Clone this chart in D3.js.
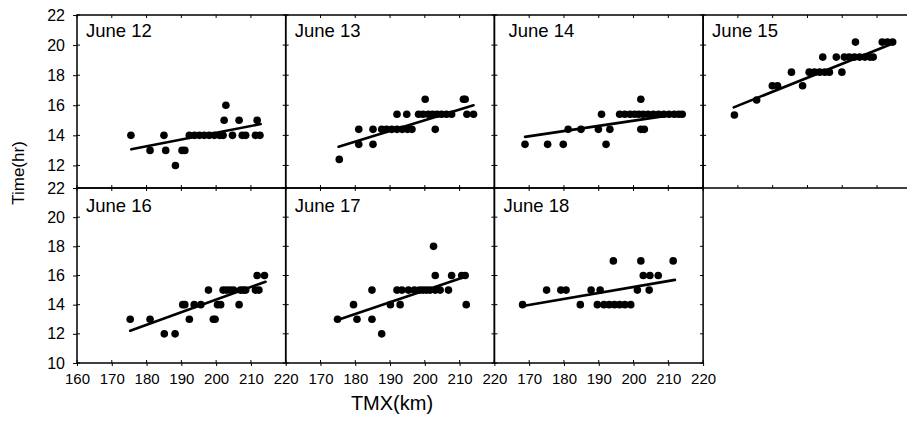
<!DOCTYPE html>
<html>
<head>
<meta charset="utf-8">
<script src="https://cdn.jsdelivr.net/npm/d3@7"></script>
<style>
body { margin: 0; background: #fff; }
text { font-family: "Liberation Sans", Arial, sans-serif; fill: #000; }
</style>
</head>
<body>
<script>
// panel labels, in drawing order (top row 4 panels, bottom row 3)
var labels = ["June 12", "June 13", "June 14", "June 15", "June 16", "June 17", "June 18"];

// [TMX (km), Time (hr)]
var june12 = [[175.5,14],[181,13],[185,14],[185.5,13],[188.3,12],[190.2,13],[191,13],
  [192.3,14],[193.8,14],[195.2,14],[196.6,14],[198,14],[199.5,14],[201,14],[202,14],
  [202.8,16],[202.3,15],[204.7,14],[206.6,15],[207.5,14],[208.5,14],[211.8,15],[211.3,14],[212.6,14]];
var june13 = [[175.4,12.4],[181,13.4],[181,14.4],[185.1,13.4],[185.1,14.4],
  [187.6,14.4],[189,14.4],[190.5,14.4],[192,14.4],[193.5,14.4],[195,14.4],[196.3,14.4],
  [192,15.4],[194.8,15.4],[198.2,15.4],[199.5,15.4],[201,15.4],[202.2,15.4],[203.5,15.4],
  [204.8,15.4],[206.2,15.4],[207.7,15.4],[200.1,16.4],[203,14.4],[211.1,16.4],[211.6,16.4],
  [212.1,15.4],[214,15.4]];
var june14 = [[168.8,13.4],[175.3,13.4],[179.8,13.4],[181.2,14.4],[184.9,14.4],[189.9,14.4],
  [190.8,15.4],[192.1,13.4],[193.2,14.4],[196,15.4],[197.5,15.4],[199,15.4],[200.3,15.4],
  [201.5,15.4],[202.8,15.4],[204.2,15.4],[205.7,15.4],[207.2,15.4],[208.7,15.4],[210.2,15.4],
  [211.7,15.4],[213,15.4],[214,15.4],[202.1,16.4],[202.1,14.4],[203.1,14.4]];
var june15 = [[169,15.35],[175.4,16.35],[179.9,17.3],[181.4,17.3],[185.4,18.2],[188.6,17.3],
  [190.5,18.2],[192,18.2],[193.5,18.2],[195,18.2],[196.3,18.2],[194.4,19.2],[198.3,19.2],
  [199.9,18.2],[200.6,19.2],[202,19.2],[203.5,19.2],[205,19.2],[206.5,19.2],[208,19.2],
  [208.9,19.2],[203.8,20.2],[211.5,20.2],[213,20.2],[214.5,20.2]];
var june16 = [[175.3,13],[181,13],[185.1,12],[188.2,12],[190.4,14],[191,14],[192.3,13],
  [193.7,14],[195.6,14],[197.8,15],[199.2,13],[199.7,13],[200.4,14],[201.3,14],[202,15],
  [203,15],[204,15],[205,15],[206.6,14],[207,15],[207.8,15],[208.5,15],[211.3,15],[212.3,15],
  [211.8,16],[213.9,16]];
var june17 = [[174.9,13],[179.5,14],[180.5,13],[184.8,15],[184.8,13],[187.6,12],[190.1,14],
  [192,15],[193.4,15],[192.9,14],[195.3,15],[197,15],[198.5,15],[199.5,15],[200.5,15],
  [201.5,15],[203,15],[202.5,18],[203,16],[204.4,15],[206.8,15],[207.7,16],[210.6,16],
  [211.6,16],[211.9,14]];
var june18 = [[168.1,14],[175,15],[179.1,15],[180.6,15],[184.7,14],[187.8,15],[190.4,15],
  [189.6,14],[191.5,14],[193,14],[194.5,14],[196,14],[197.5,14],[199.2,14],[194.2,17],
  [201.1,15],[202.1,17],[202.8,16],[204.7,16],[207.1,16],[204.5,15],[211.4,17]];

// fitted lines per panel: [x start, y start, x end, y end]
var fits = [[175.6,13.07,212.8,14.75],[175.2,13.24,214,16.0],[168.8,13.9,214.1,15.46],
  [168.8,15.86,214.7,20.12],[175.3,12.21,214.2,15.57],[174.9,12.95,211.6,15.92],
  [168.6,13.93,211.9,15.7]];

var xTicks = [160, 170, 180, 190, 200, 210, 220];
var yTicksTop = [12, 14, 16, 18, 20, 22];
var yTicksBottom = [10, 12, 14, 16, 18, 20, 22];

var series = [june12, june13, june14, june15, june16, june17, june18];

var width = 907, height = 422;
var left = 77, panelW = 208.7;
var rows = [
  {top: 15, bottom: 188, domain: [10.5, 22], ticks: yTicksTop},
  {top: 188, bottom: 363, domain: [10, 22], ticks: yTicksBottom}
];

var svg = d3.select("body").append("svg")
  .attr("width", width).attr("height", height);

series.forEach(function (pts, i) {
  var r = i < 4 ? 0 : 1,
      col = i < 4 ? i : i - 4,
      row = rows[r],
      h = row.bottom - row.top;

  var x = d3.scaleLinear().domain([160, 220]).range([0, panelW]);
  var y = d3.scaleLinear().domain(row.domain).range([h, 0]);

  var g = svg.append("g")
    .attr("transform", "translate(" + (left + col * panelW) + "," + row.top + ")");

  // small inside ticks on all four sides
  xTicks.forEach(function (t) {
    g.append("line").attr("x1", x(t)).attr("x2", x(t)).attr("y1", 0).attr("y2", 3)
      .attr("stroke", "#000").attr("stroke-width", 1);
    g.append("line").attr("x1", x(t)).attr("x2", x(t)).attr("y1", h - 3).attr("y2", h)
      .attr("stroke", "#000").attr("stroke-width", 1);
  });
  row.ticks.forEach(function (t) {
    g.append("line").attr("x1", 0).attr("x2", 3).attr("y1", y(t)).attr("y2", y(t))
      .attr("stroke", "#000").attr("stroke-width", 1);
    g.append("line").attr("x1", panelW - 3).attr("x2", panelW).attr("y1", y(t)).attr("y2", y(t))
      .attr("stroke", "#000").attr("stroke-width", 1);
  });

  g.append("rect")
    .attr("width", panelW).attr("height", h)
    .attr("fill", "none").attr("stroke", "#000").attr("stroke-width", 1.5);

  g.selectAll(".dot")
    .data(pts)
    .enter().append("circle")
    .attr("class", "dot")
    .attr("cx", function (d) { return x(d[0]); })
    .attr("cy", function (d) { return y(d[1]); })
    .attr("r", 3.8)
    .attr("fill", "#000");

  var f = fits[i];
  g.append("line")
    .attr("x1", x(f[0])).attr("y1", y(f[1]))
    .attr("x2", x(f[2])).attr("y2", y(f[3]))
    .attr("stroke", "#000").attr("stroke-width", 2.6).attr("stroke-linecap", "round");

  g.append("text")
    .attr("x", i === 2 ? 14 : 9).attr("y", r === 0 ? 22 : 24)
    .attr("font-size", "18.5px")
    .text(labels[i]);

  if (col === 0) {
    var ax = g.append("g").call(d3.axisLeft(y).tickValues(row.ticks).tickSize(4).tickPadding(8));
    ax.select(".domain").remove();
    ax.selectAll("text").attr("font-size", "16px").attr("font-family", null);
  }
  if (r === 1) {
    var tv = col === 0 ? xTicks : xTicks.slice(1);
    var bx = g.append("g").attr("transform", "translate(0," + h + ")")
      .call(d3.axisBottom(x).tickValues(tv).tickSize(3).tickPadding(7));
    bx.select(".domain").remove();
    bx.selectAll("text").attr("font-size", "15px").attr("font-family", null);
  }
});

svg.append("text")
  .attr("transform", "translate(18,173) rotate(-90)")
  .attr("text-anchor", "middle")
  .attr("dominant-baseline", "central")
  .attr("font-size", "17px")
  .text("Time(hr)");

svg.append("text")
  .attr("x", 392).attr("y", 410)
  .attr("text-anchor", "middle")
  .attr("font-size", "20px")
  .text("TMX(km)");
</script>
</body>
</html>
